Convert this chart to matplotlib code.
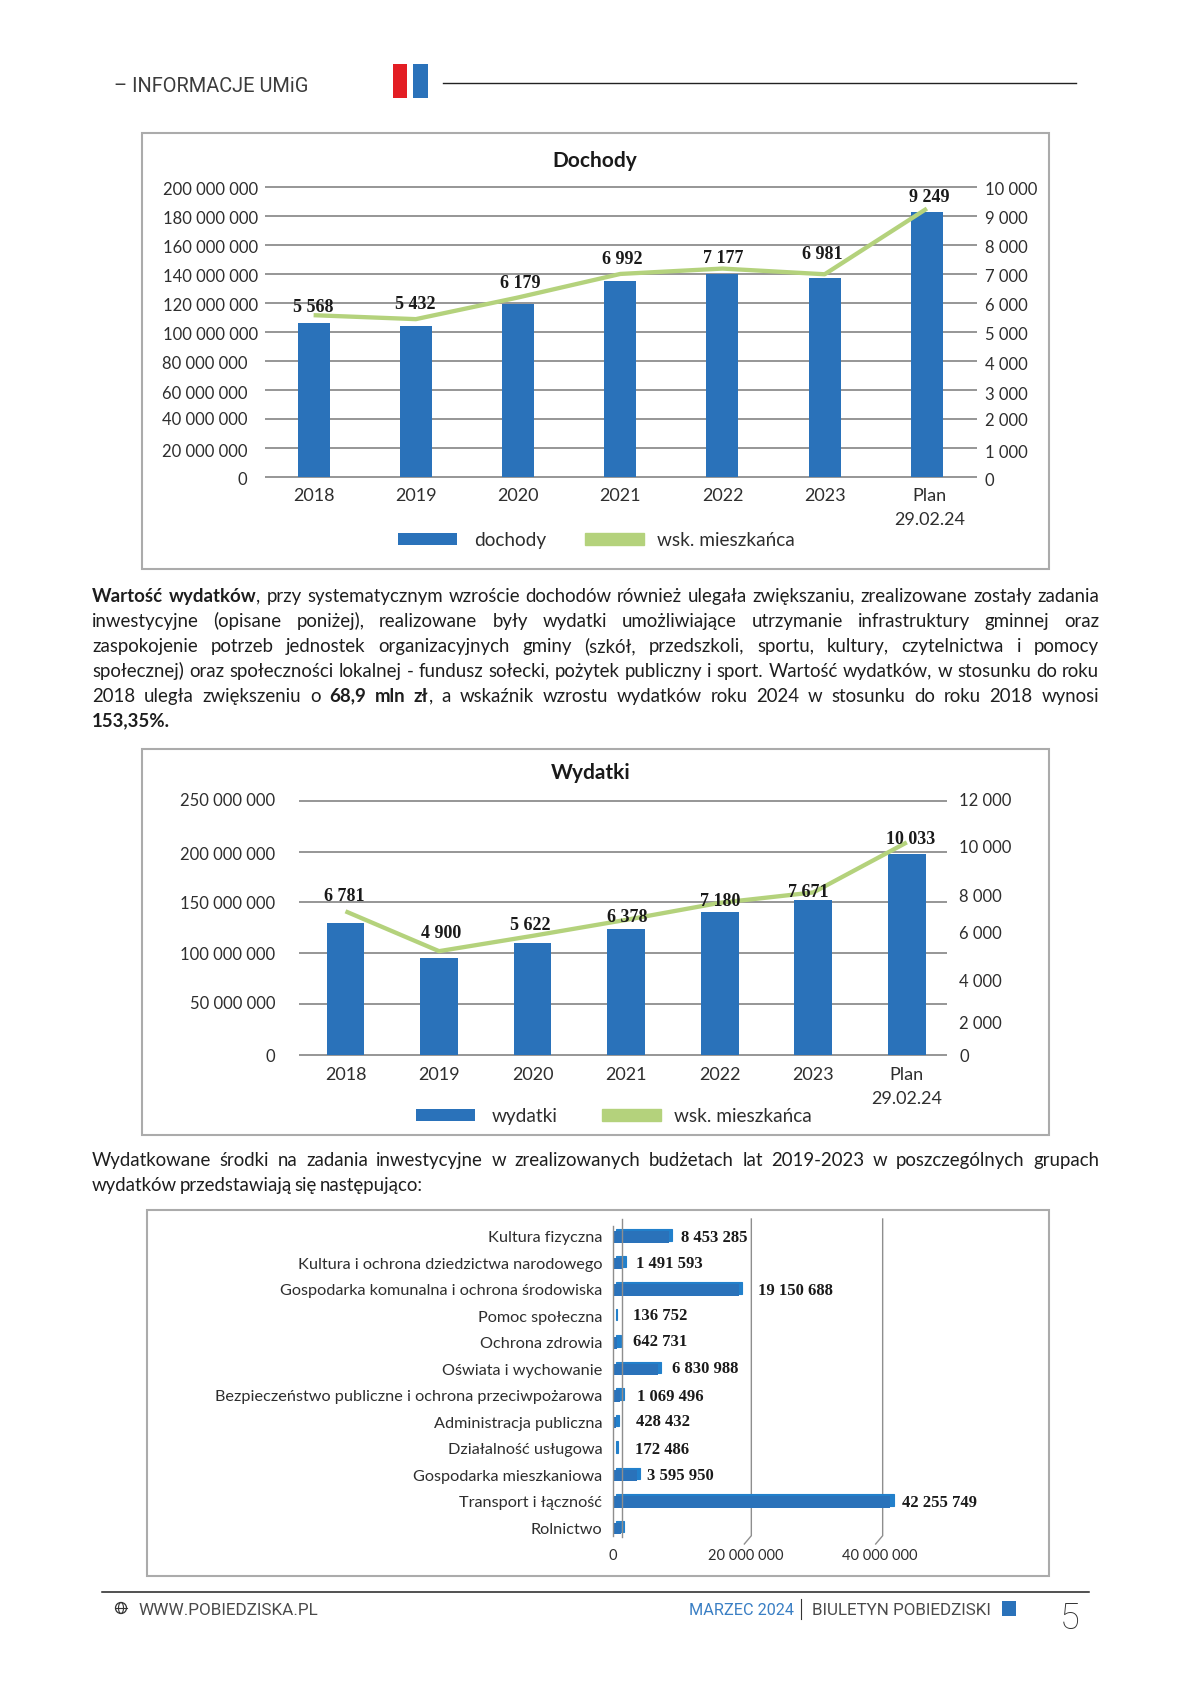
import matplotlib
matplotlib.use("Agg")
import matplotlib.pyplot as plt
from matplotlib.lines import Line2D
from matplotlib.patches import Patch, Rectangle, Circle, Ellipse
from matplotlib.transforms import Affine2D

# ---------- data ----------
years = ['2018', '2019', '2020', '2021', '2022', '2023', 'Plan\n29.02.24']
income = [106300000, 103600000, 119400000, 135100000, 139700000, 137200000, 182500000]
income_per_resident = [5568, 5432, 6179, 6992, 7177, 6981, 9249]
income_labels = ['5 568', '5 432', '6 179', '6 992', '7 177', '6 981', '9 249']
income_left_ticks = [0, 20e6, 40e6, 60e6, 80e6, 100e6, 120e6, 140e6, 160e6, 180e6, 200e6]
income_left_labels = ['0', '20 000 000', '40 000 000', '60 000 000', '80 000 000', '100 000 000',
                      '120 000 000', '140 000 000', '160 000 000', '180 000 000', '200 000 000']
income_right_ticks = [0, 1000, 2000, 3000, 4000, 5000, 6000, 7000, 8000, 9000, 10000]
income_right_labels = ['0', '1 000', '2 000', '3 000', '4 000', '5 000', '6 000', '7 000', '8 000', '9 000', '10 000']

spending = [129800000, 95300000, 109800000, 123900000, 140200000, 152000000, 197600000]
spending_per_resident = [6781, 4900, 5622, 6378, 7180, 7671, 10033]
spending_labels = ['6 781', '4 900', '5 622', '6 378', '7 180', '7 671', '10 033']
spending_left_ticks = [0, 50e6, 100e6, 150e6, 200e6, 250e6]
spending_left_labels = ['0', '50 000 000', '100 000 000', '150 000 000', '200 000 000', '250 000 000']
spending_right_ticks = [0, 2000, 4000, 6000, 8000, 10000, 12000]
spending_right_labels = ['0', '2 000', '4 000', '6 000', '8 000', '10 000', '12 000']

groups = ['Kultura fizyczna', 'Kultura i ochrona dziedzictwa narodowego',
          'Gospodarka komunalna i ochrona środowiska', 'Pomoc społeczna', 'Ochrona zdrowia',
          'Oświata i wychowanie', 'Bezpieczeństwo publiczne i ochrona przeciwpożarowa',
          'Administracja publiczna', 'Działalność usługowa', 'Gospodarka mieszkaniowa',
          'Transport i łączność', 'Rolnictwo']
group_values = [8453285, 1491593, 19150688, 136752, 642731, 6830988, 1069496, 428432, 172486,
                3595950, 42255749, 1200000]
group_labels = ['8 453 285', '1 491 593', '19 150 688', '136 752', '642 731', '6 830 988',
                '1 069 496', '428 432', '172 486', '3 595 950', '42 255 749', '']
group_ticks = [0, 20000000, 40000000]
group_tick_labels = ['0', '20 000 000', '40 000 000']

para1 = [
    [('Wartość wydatków', 'bold'), (', przy systematycznym wzroście dochodów również ulegała zwiększaniu, zrealizowane zostały zadania', 'normal')],
    [('inwestycyjne (opisane poniżej), realizowane były wydatki umożliwiające utrzymanie infrastruktury gminnej oraz', 'normal')],
    [('zaspokojenie potrzeb jednostek organizacyjnych gminy (szkół, przedszkoli, sportu, kultury, czytelnictwa i pomocy', 'normal')],
    [('społecznej) oraz społeczności lokalnej - fundusz sołecki, pożytek publiczny i sport. Wartość wydatków, w stosunku do roku', 'normal')],
    [('2018 uległa zwiększeniu o ', 'normal'), ('68,9 mln zł', 'bold'), (', a wskaźnik wzrostu wydatków roku 2024 w stosunku do roku 2018 wynosi', 'normal')],
]
para1_last = [('153,35%.', 'bold')]
para2 = [('Wydatkowane środki na zadania inwestycyjne w zrealizowanych budżetach lat 2019-2023 w poszczególnych grupach', 'normal')]
para2_last = [('wydatków przedstawiają się następująco:', 'normal')]

# ---------- style ----------
BLUE = '#2A72BA'
BLUE_TOP = '#2280CB'
GREEN = '#B4D27C'
GRID = '#8E8E8E'
TXT = '#2E2E2E'
DARK = '#1A1A1A'
FONT = 'Lato'
SERIF = 'Liberation Serif'
plt.rcParams['font.family'] = [FONT, 'DejaVu Sans']

W, H = 1190, 1683
fig = plt.figure(figsize=(W / 100, H / 100), dpi=100, facecolor='white')
PX = Affine2D().scale(1, -1).translate(0, H)   # page pixels, y downward


def axes_px(l, t, r, b):
    return fig.add_axes([l / W, 1 - b / H, (r - l) / W, (b - t) / H])


def frame(l, t, r, b):
    fig.add_artist(Rectangle((l, t), r - l, b - t, transform=PX, fc='white', ec='#ABABAB', lw=1.5, zorder=-5))


def nudge(label, dx=0, dy=0):
    label.set_transform(label.get_transform() + Affine2D().translate(dx, -dy))


def combo(left, top, right, bottom, bar_vals, line_vals, line_labels, lticks, llabels, rticks, rlabels,
          ymax, rmax, bar_width, grid_span, left_pad, right_x, offsets, legend_names, legend_xy, col_space,
          title, title_xy, left_nudge, right_nudge, plan_dx):
    ax = axes_px(left, top, right, bottom)
    x = list(range(len(years)))
    ax.set_xlim(-0.5, 6.5)
    ax.set_ylim(0, ymax)
    bars = ax.bar(x, bar_vals, width=bar_width, color=BLUE, zorder=3)
    gl = (grid_span[0] - left) / (right - left)
    gr = (grid_span[1] - left) / (right - left)
    ax.hlines(lticks, gl, gr, transform=ax.get_yaxis_transform(), color=GRID, lw=1.3, zorder=1, clip_on=False)
    ax.set_xticks(x, years, fontsize=13, color=TXT, linespacing=1.62)
    ax.set_yticks(lticks, llabels, fontsize=12, color=TXT)
    ax.tick_params(axis='both', length=0)
    ax.tick_params(axis='x', pad=7.6)
    ax.tick_params(axis='y', pad=left_pad * 0.72)
    for s in ax.spines.values():
        s.set_visible(False)
    for lab, (dx, dy) in zip(ax.get_yticklabels(), left_nudge):
        nudge(lab, dx, dy)
    nudge(ax.get_xticklabels()[-1], plan_dx, 0)

    ax2 = ax.twinx()
    ax2.set_ylim(0, rmax)
    ax2.plot(x, line_vals, color=GREEN, lw=3.1, zorder=4, solid_joinstyle='round', solid_capstyle='butt')
    ax2.set_yticks(rticks, rlabels, fontsize=12, color=TXT)
    ax2.tick_params(axis='y', length=0, pad=(right_x - right) * 0.72)
    for s in ax2.spines.values():
        s.set_visible(False)
    for lab, dy in zip(ax2.get_yticklabels(), right_nudge):
        nudge(lab, 0, dy)
    for xi, v, t, (dx, dy) in zip(x, line_vals, line_labels, offsets):
        ax2.annotate(t, (xi, v), xytext=(dx, dy), textcoords='offset pixels', ha='center', va='center',
                     family=SERIF, weight='bold', fontsize=13, color=DARK, zorder=6)
    leg = ax.legend([bars, Patch(color=GREEN)], legend_names, ncol=2, frameon=False, fontsize=13.7,
                    loc='center left', bbox_to_anchor=legend_xy, bbox_transform=PX, borderpad=0,
                    borderaxespad=0, handlelength=3.1, handleheight=0.58, handletextpad=0.89,
                    columnspacing=col_space, labelcolor=TXT)
    leg.get_texts()[1].set_x(-4)
    fig.text(title_xy[0], title_xy[1], title, transform=PX, ha='center', va='center',
             fontsize=15, weight='bold', color=DARK)
    return ax


# ---------- chart 1 ----------
frame(142, 133.7, 1049.3, 570)
combo(262.5, 187.8, 978, 477.5, income, income_per_resident, income_labels,
      income_left_ticks, income_left_labels, income_right_ticks, income_right_labels,
      200e6, 10000, 0.313, (264.5, 977), 4.5, 984.5,
      [(0, 8.2), (-1, 15.8), (2, 15.2), (2, 15.6), (1, 10.9), (-2.6, 21), (2.6, 12.3)],
      ['dochody', 'wsk. mieszkańca'], (398, 541), 2.07, 'Dochody', (595, 161),
      [(-10.5, 1), (-10.5, 2), (-10.5, -1), (-10.5, 2), (-10.5, 1)] + [(0, 1)] * 6,
      [1.5, 2.5, 0, 3, 1.5, 1, 1, 1, 1, 1, 1], 3)

# ---------- chart 2 ----------
frame(142.3, 749.7, 1049.3, 1136)
combo(298.7, 801.7, 953.6, 1056, spending, spending_per_resident, spending_labels,
      spending_left_ticks, spending_left_labels, spending_right_ticks, spending_right_labels,
      250e6, 12000, 0.403, (299, 947.3), 23.5, 959,
      [(-1.2, 16), (1.7, 18.9), (-2, 11.6), (1, 3.5), (0, 2.8), (-5, 1.4), (3.5, 4.1)],
      ['wydatki', 'wsk. mieszkańca'], (415.7, 1117), 2.33, 'Wydatki', (590.7, 773),
      [(0, -1), (0, -3), (0, -1), (0, -1), (0, 1), (0, -2)],
      [-1, 9, 9, 3.4, 9.2, 2, -1.7], 0)

# ---------- chart 3 ----------
frame(147, 1210.7, 1049, 1576.5)
ax3 = axes_px(613, 1224.5, 1007, 1542.5)
ypos = list(range(len(groups)))
ax3.set_xlim(0, 60000000)
ax3.set_ylim(11.5, -0.5)
for s in ax3.spines.values():
    s.set_visible(False)
row_h = 11.5 / 26.5
ax3.barh(ypos, group_values, height=row_h, color=BLUE_TOP, edgecolor=BLUE_TOP, linewidth=0.8, zorder=3,
         transform=ax3.transData + Affine2D().translate(3.5, 1.7))
ax3.barh(ypos, group_values, height=row_h, color=BLUE, zorder=4)
ax3.set_yticks(ypos, groups, fontsize=11.7, color=TXT)
ax3.set_xticks(group_ticks, group_tick_labels, fontsize=10.5, color=TXT)
ax3.tick_params(axis='y', length=0, pad=10.5 * 0.72)
ax3.tick_params(axis='x', length=0, pad=5)
for lab in ax3.get_yticklabels():
    nudge(lab, 0, -1)
nudge(ax3.get_xticklabels()[2], 4, 0)
nudge(ax3.get_xticklabels()[1], 1, 0)
label_dx = [12.9, 13.2, 18.8, 19, 15.8, 14.1, 17.4, 20.2, 20.9, 10.4, 11.4, 0]
label_dy = [0, 0, -0.7, 1.3, 2, 1.7, 0, 1.3, 0, 0.7, 0, 0]
for yi, v, t, dx, dy in zip(ypos, group_values, group_labels, label_dx, label_dy):
    if t:
        ax3.annotate(t, (v, yi), xytext=(dx, dy), textcoords='offset pixels', ha='left', va='center',
                     family=SERIF, weight='bold', fontsize=12, color=DARK, zorder=6)
fig.add_artist(Line2D([613, 613], [1227, 1537], transform=PX, color=GRID, lw=1))
fig.add_artist(Line2D([621.5, 621.5], [1220, 1538], transform=PX, color=GRID, lw=1, zorder=1))
for v in group_ticks[1:]:
    foot = ax3.transData.transform((v, 0))[0]
    ax3.add_line(Line2D([foot + 7, foot + 7, foot], [1220, 1536.7, 1545], transform=PX, color=GRID,
                        lw=1, zorder=1, clip_on=False))


# ---------- running text ----------
renderer = fig.canvas.get_renderer()


def words_of(runs):
    out = []
    for text, weight in runs:
        glue = not text.startswith(' ') and out and text[0] in ',.'
        for i, w in enumerate(text.split()):
            if i == 0 and glue:
                out[-1] = out[-1] + [(w, weight)]
            else:
                out.append([(w, weight)])
    return out


def draw_line(runs, x0, x1, base, size=13.4, justify=True, natural=3.6):
    items = []
    total = 0
    for group in words_of(runs):
        parts = []
        gw = 0
        for w, weight in group:
            t = fig.text(0, base, w, transform=PX, fontsize=size, weight=weight, color='#1E1E1E', va='baseline')
            bb = t.get_window_extent(renderer)
            parts.append((t, bb.width))
            gw += bb.width
        items.append((parts, gw))
        total += gw
    gap = (x1 - x0 - total) / (len(items) - 1) if justify and len(items) > 1 else natural
    x = x0
    for parts, gw in items:
        px = x
        for t, w in parts:
            t.set_x(px)
            px += w
        x += gw + gap


for i, runs in enumerate(para1):
    draw_line(runs, 92, 1099, 601.7 + 25 * i)
draw_line(para1_last, 92, 1099, 726.7, justify=False)
draw_line(para2, 92, 1099, 1166)
draw_line(para2_last, 92, 1099, 1191, justify=False, natural=2.6)

# ---------- page furniture ----------
HEAD = 'Roboto'
fig.text(114, 92.5, '– INFORMACJE UMiG', transform=PX, family=HEAD, fontsize=14.45, color='#3C3C3C')
fig.add_artist(Rectangle((392.7, 65), 14.3, 34, transform=PX, fc='#E31E24', ec='none'))
fig.add_artist(Rectangle((413.3, 65), 14.7, 34, transform=PX, fc=BLUE, ec='none'))
fig.add_artist(Line2D([442.7, 1076], [83.5, 83.5], transform=PX, color='#222222', lw=1))

fig.add_artist(Line2D([102, 1089], [1592.7, 1592.7], transform=PX, color='#222222', lw=1.1))
fig.add_artist(Circle((121, 1609), 5.5, transform=PX, fc='none', ec='#333333', lw=0.9))
fig.add_artist(Ellipse((121, 1609), 5, 11, transform=PX, fc='none', ec='#333333', lw=0.8))
fig.add_artist(Line2D([115.5, 126.5], [1609, 1609], transform=PX, color='#333333', lw=0.8))
fig.text(138, 1615.5, 'WWW.POBIEDZISKA.PL', transform=PX, family=HEAD, fontsize=12.35, color='#4A4A4A')
fig.text(689, 1615.5, 'MARZEC 2024', transform=PX, family=HEAD, fontsize=11.7, color='#3A7FC4')
fig.add_artist(Line2D([800.5, 800.5], [1600, 1620], transform=PX, color='#333333', lw=0.8))
fig.text(812, 1615.5, 'BIULETYN POBIEDZISKI', transform=PX, family=HEAD, fontsize=12.25, color='#4A4A4A')
fig.add_artist(Rectangle((1002, 1601.7), 14, 15, transform=PX, fc=BLUE, ec='none'))
fig.text(1070, 1629, '5', transform=PX, family=HEAD, weight='light', fontsize=26, color='#333333', ha='center')

fig.savefig('out.png', dpi=100, facecolor='white')
